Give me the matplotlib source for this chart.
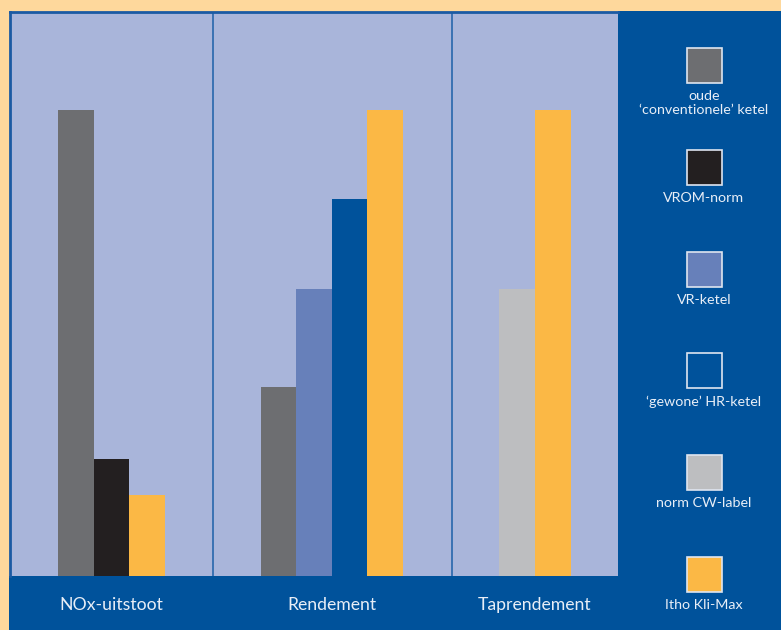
import matplotlib
matplotlib.use("Agg")
import matplotlib.pyplot as plt
from matplotlib.patches import Rectangle

plt.rcParams['font.family'] = ['Lato', 'DejaVu Sans']

# data (relative scale, tallest bar = 100)
categories = ['NOx-uitstoot', 'Rendement', 'Taprendement']
series_names = ['oude\n\u2018conventionele\u2019 ketel', 'VROM-norm', 'VR-ketel',
                '\u2018gewone\u2019 HR-ketel', 'norm CW-label', 'Itho Kli-Max']
series_colors = ['#6d6e71', '#231f20', '#6780ba', '#00529b', '#bdbec0', '#fbb845']
group_members = [[0, 1, 5], [0, 2, 3, 5], [4, 5]]
group_values = [[100, 25.1, 17.4], [40.6, 61.6, 80.9, 100], [61.6, 100]]

# layout
W, H = 781, 630
orange_bg = '#fed89c'
panel_blue = '#00529b'
lavender = '#a9b5da'
txt_col = '#e8eef7'
group_edges = [0, 5.7, 12.38, 17.12]

fig = plt.figure(figsize=(W / 100, H / 100), dpi=100, facecolor=orange_bg)

# background decorations in pixel coordinates
bg = fig.add_axes([0, 0, 1, 1], zorder=-1)
bg.set_xlim(0, W)
bg.set_ylim(H, 0)
bg.axis('off')
bg.add_patch(Rectangle((9, 576), 618 - 9, H - 576, color=panel_blue, lw=0))
bg.add_patch(Rectangle((618, 11), W - 618, H - 11, color=panel_blue, lw=0))

# legend column
sq = 35
for i, (name, col) in enumerate(zip(series_names, series_colors)):
    top = 48 + i * 101.8
    bg.add_patch(Rectangle((704 - sq / 2, top), sq, sq, facecolor=col,
                           edgecolor='#dfe5f0', lw=1.2))
    bg.text(704, top + sq + 7, name, ha='center', va='top', color=txt_col,
            fontsize=10.3, linespacing=1.2)

# main chart
ax = fig.add_axes([10 / W, (H - 576) / H, 608 / W, 564 / H], facecolor=lavender)
ax.set_xlim(0, 17.08)
ax.set_ylim(0, 121)

centers = []
for g in range(len(categories)):
    c = (group_edges[g] + group_edges[g + 1]) / 2
    centers.append(c)
    members = group_members[g]
    n = len(members)
    for j, (s, v) in enumerate(zip(members, group_values[g])):
        ax.bar(c + (j - (n - 1) / 2), v, width=1.0, color=series_colors[s],
               linewidth=0, zorder=2)

for e in [5.7, 12.42]:
    ax.axvline(e, color='#3b72b2', lw=1.4, zorder=1)

ax.set_xticks(centers)
ax.set_xticklabels(categories, color=txt_col, fontsize=12.7)
ax.tick_params(axis='x', length=0, pad=15)
ax.set_yticks([])
for side in ['right', 'bottom']:
    ax.spines[side].set_visible(False)
for side in ['top', 'left']:
    ax.spines[side].set_color('#1b5aa3')
    ax.spines[side].set_linewidth(2)

plt.savefig('out.png', dpi=100, facecolor=orange_bg)
